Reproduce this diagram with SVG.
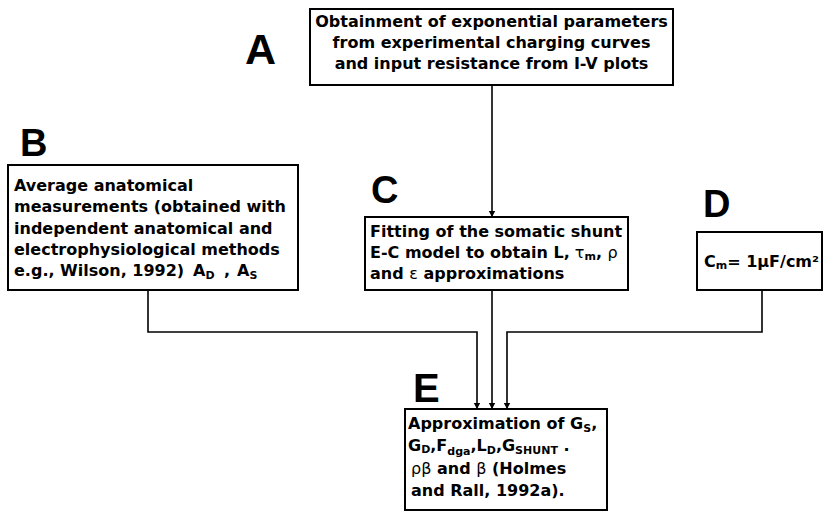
<svg xmlns="http://www.w3.org/2000/svg" width="830" height="517" viewBox="0 0 830 517">
<style>
.box{fill:#fff;stroke:#000;stroke-width:2}
.t{font-family:"DejaVu Sans","Liberation Sans",Arial,sans-serif;font-weight:bold;font-size:16px;fill:#000}
.big{font-family:"Liberation Sans",Arial,sans-serif;font-weight:900;fill:#000}
.sub{font-size:11px}
.c{fill:none;stroke:#000;stroke-width:1.6}
</style>
<defs>
<marker id="ah" markerWidth="8" markerHeight="8" refX="7" refY="4" orient="auto" markerUnits="userSpaceOnUse" viewBox="0 0 8 8">
<path d="M1,0.8 L7,4 L1,7.2 Z" fill="#000"/>
</marker>
</defs>
<rect width="830" height="517" fill="#fff"/>
<g id="connectors">
<path class="c" d="M492,85 V217" marker-end="url(#ah)"/>
<path class="c" d="M492,290 V409" marker-end="url(#ah)"/>
<path class="c" d="M148,290 V332 H477 V409" marker-end="url(#ah)"/>
<path class="c" d="M762,290 V332 H507 V409" marker-end="url(#ah)"/>
</g>
<g id="nodeA">
<text class="big" x="245" y="64" font-size="43">A</text>
<rect class="box" x="310" y="9" width="363" height="76"/>
<text class="t" x="491.5" y="27" text-anchor="middle">Obtainment of exponential parameters</text>
<text class="t" x="491.5" y="48" text-anchor="middle">from experimental charging curves</text>
<text class="t" x="491.5" y="69" text-anchor="middle">and input resistance from I-V plots</text>
</g>
<g id="nodeB">
<text class="big" x="20" y="156" font-size="38">B</text>
<rect class="box" x="8" y="165" width="290" height="125"/>
<text class="t" x="14" y="191">Average anatomical</text>
<text class="t" x="14" y="212">measurements (obtained with</text>
<text class="t" x="14" y="234">independent anatomical and</text>
<text class="t" x="14" y="255">electrophysiological methods</text>
<text class="t" x="14" y="276">e.g., Wilson, 1992)<tspan x="193">A</tspan><tspan class="sub" dy="3">D</tspan><tspan dy="-3" x="224">,</tspan><tspan x="237">A</tspan><tspan class="sub" dy="3">S</tspan></text>
</g>
<g id="nodeC">
<text class="big" x="371" y="203" font-size="38">C</text>
<rect class="box" x="365" y="217" width="263" height="73"/>
<text class="t" x="370" y="237">Fitting of the somatic shunt</text>
<text class="t" x="370" y="258">E-C model to obtain L,<tspan font-weight="normal"> τ</tspan><tspan class="sub" dy="2">m</tspan><tspan dy="-2">, </tspan><tspan font-weight="normal">ρ</tspan></text>
<text class="t" x="370" y="279">and <tspan font-weight="normal">ε</tspan> approximations</text>
</g>
<g id="nodeD">
<text class="big" x="703" y="217" font-size="38">D</text>
<rect class="box" x="697" y="232" width="125" height="58"/>
<text class="t" x="704" y="267" font-size="13.5">C<tspan class="sub" dy="2">m</tspan><tspan dy="-2">= 1μF/cm²</tspan></text>
</g>
<g id="nodeE">
<text class="big" x="413" y="402" font-size="40">E</text>
<rect class="box" x="405" y="409" width="202" height="101"/>
<text class="t" x="408" y="429">Approximation of G<tspan class="sub" dy="3">S</tspan><tspan dy="-3">,</tspan></text>
<text class="t" x="408" y="451">G<tspan class="sub" dy="2">D</tspan><tspan dy="-2">,F</tspan><tspan class="sub" dy="4">dga</tspan><tspan dy="-4">,L</tspan><tspan class="sub" dy="3">D</tspan><tspan dy="-3">,G</tspan><tspan class="sub" dy="3">SHUNT</tspan><tspan dy="-3"> .</tspan></text>
<text class="t" x="411" y="474"><tspan font-weight="normal">ρβ</tspan> and <tspan font-weight="normal">β</tspan> (Holmes</text>
<text class="t" x="411" y="496">and Rall, 1992a).</text>
</g>
</svg>
